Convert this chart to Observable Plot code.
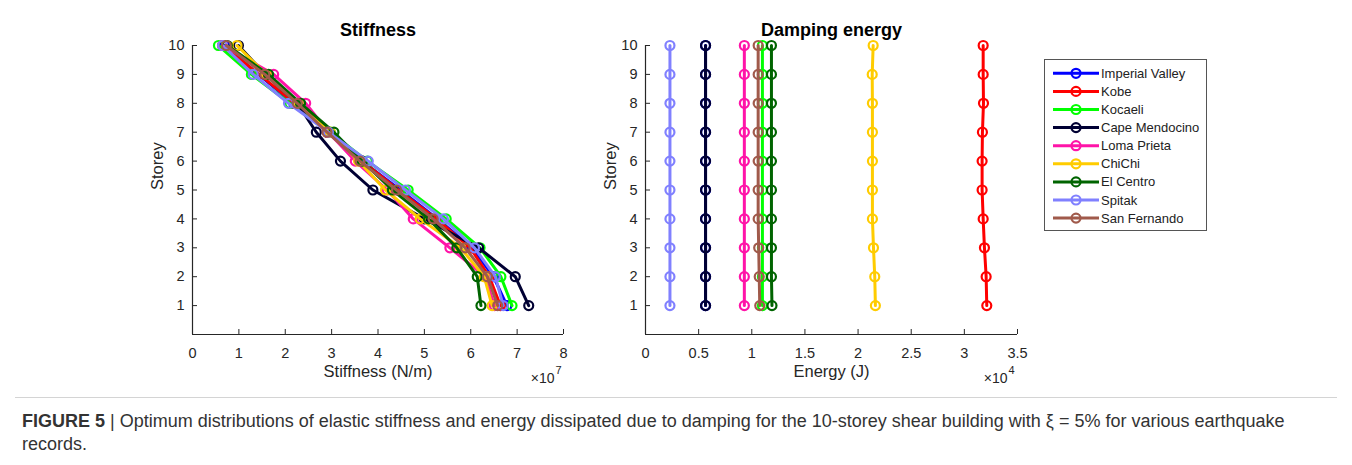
<!DOCTYPE html>
<html><head><meta charset="utf-8">
<script src="https://cdn.jsdelivr.net/npm/d3@7"></script>
<script src="https://cdn.jsdelivr.net/npm/@observablehq/plot@0.6"></script>
<style>
body{margin:0;background:#fff;font-family:"Liberation Sans",Arial,sans-serif;}
#wrap{position:relative;width:1352px;height:465px;overflow:hidden;background:#fff;}
#left{position:absolute;left:0;top:0;}
#right{position:absolute;left:600px;top:0;}
#legend{position:absolute;left:1040px;top:55px;}
#rule{position:absolute;left:15px;top:397px;width:1322px;height:1px;background:#d4d4d4;}
#caption{position:absolute;left:22px;top:410px;width:1310px;font-size:18px;line-height:23px;color:#333;}
</style></head><body>
<div id="wrap">
  <div id="left"></div>
  <div id="right"></div>
  <div id="legend"></div>
  <div id="rule"></div>
  <div id="caption"><b>FIGURE 5</b> | Optimum distributions of elastic stiffness and energy dissipated due to damping for the 10-storey shear building with ξ = 5% for various earthquake records.</div>
</div>
<script>
// ---- data ----
const storeys = [1, 2, 3, 4, 5, 6, 7, 8, 9, 10];
const seriesNames = ["Imperial Valley", "Kobe", "Kocaeli", "Cape Mendocino", "Loma Prieta", "ChiChi", "El Centro", "Spitak", "San Fernando"];
const seriesColors = ["#0000FF", "#FF0000", "#00FF00", "#000033", "#FF14A8", "#FFCC00", "#006400", "#8080FF", "#A05A4B"];

// Stiffness (x 10^7 N/m), storey 1..10
const stiffImperialValley = [6.78, 6.49, 6.03, 5.28, 4.48, 3.66, 2.91, 2.18, 1.42, 0.69];
const stiffKobe           = [6.64, 6.40, 5.99, 5.26, 4.44, 3.66, 2.91, 2.20, 1.44, 0.65];
const stiffKocaeli        = [6.89, 6.65, 6.20, 5.47, 4.65, 3.77, 2.97, 2.10, 1.27, 0.56];
const stiffCapeMendocino  = [7.25, 6.96, 6.17, 5.00, 3.89, 3.19, 2.67, 2.26, 1.57, 0.99];
const stiffLomaPrieta     = [6.51, 6.31, 5.55, 4.76, 4.20, 3.51, 2.93, 2.44, 1.75, 0.65];
const stiffChiChi         = [6.46, 6.29, 5.78, 4.91, 4.16, 3.58, 2.97, 2.28, 1.59, 0.96];
const stiffElCentro       = [6.22, 6.14, 5.70, 5.09, 4.31, 3.66, 3.05, 2.33, 1.64, 0.75];
const stiffSpitak         = [6.70, 6.53, 6.08, 5.41, 4.59, 3.79, 2.93, 2.07, 1.31, 0.65];
const stiffSanFernando    = [6.58, 6.36, 5.88, 5.19, 4.40, 3.61, 2.90, 2.26, 1.56, 0.73];

// Damping energy (x 10^4 J), storey 1..10
const energyImperialValley = [0.565, 0.565, 0.565, 0.565, 0.565, 0.565, 0.565, 0.565, 0.565, 0.565];
const energyKobe           = [3.211, 3.205, 3.189, 3.177, 3.167, 3.167, 3.170, 3.180, 3.177, 3.177];
const energyKocaeli        = [1.10, 1.10, 1.10, 1.10, 1.10, 1.10, 1.10, 1.10, 1.10, 1.10];
const energyCapeMendocino  = [0.565, 0.565, 0.565, 0.565, 0.565, 0.565, 0.565, 0.565, 0.565, 0.565];
const energyLomaPrieta     = [0.93, 0.93, 0.93, 0.93, 0.93, 0.93, 0.93, 0.93, 0.93, 0.93];
const energyChiChi         = [2.163, 2.157, 2.145, 2.135, 2.135, 2.135, 2.135, 2.135, 2.133, 2.142];
const energyElCentro       = [1.19, 1.185, 1.185, 1.185, 1.185, 1.185, 1.185, 1.185, 1.185, 1.185];
const energySpitak         = [0.23, 0.23, 0.23, 0.23, 0.23, 0.23, 0.23, 0.23, 0.23, 0.23];
const energySanFernando    = [1.075, 1.07, 1.065, 1.06, 1.06, 1.06, 1.06, 1.06, 1.06, 1.06];

const stiffTicks = [0, 1, 2, 3, 4, 5, 6, 7, 8];
const energyTicks = [0, 0.5, 1, 1.5, 2, 2.5, 3, 3.5];
const storeyTicks = [1, 2, 3, 4, 5, 6, 7, 8, 9, 10];

const stiffSeries = [stiffImperialValley, stiffKobe, stiffKocaeli, stiffCapeMendocino, stiffLomaPrieta, stiffChiChi, stiffElCentro, stiffSpitak, stiffSanFernando];
const energySeries = [energyImperialValley, energyKobe, energyKocaeli, energyCapeMendocino, energyLomaPrieta, energyChiChi, energyElCentro, energySpitak, energySanFernando];

const AX = "#262626";
const FONT = "'Liberation Sans', Arial, sans-serif";

function panel({series, xDomain, xTicks, title, xLabel, exponent, width, marginLeft, marginRight, expDx}) {
  const height = 390, marginTop = 45, marginBottom = 56;
  const frameH = height - marginTop - marginBottom;
  const frameW = width - marginLeft - marginRight;
  const marks = [
    Plot.ruleX([xDomain[0]], {stroke: AX, strokeWidth: 1.2}),
    Plot.ruleY([0], {stroke: AX, strokeWidth: 1.2}),
    Plot.tickX(xTicks, {x: d => d, stroke: AX, insetTop: frameH - 5}),
    Plot.tickY(storeyTicks, {y: d => d, stroke: AX, insetRight: frameW - 5}),
    Plot.axisX(xTicks, {tickSize: 0, tickPadding: 13, tickFormat: d => String(d), label: null, fill: AX, fontSize: 14.5}),
    Plot.axisY(storeyTicks, {tickSize: 0, tickPadding: 8, tickFormat: d => String(d), label: null, fill: AX, fontSize: 14.5})
  ];
  series.forEach((vals, i) => {
    const rows = storeys.map((s, j) => ({s, v: vals[j]}));
    marks.push(Plot.line(rows, {x: "v", y: "s", stroke: seriesColors[i], strokeWidth: 3}));
    marks.push(Plot.dot(rows, {x: "v", y: "s", stroke: seriesColors[i], strokeWidth: 2.2, r: 4.5, fill: "none"}));
  });
  marks.push(
    Plot.text([title], {text: d => d, frameAnchor: "top", lineAnchor: "middle", dy: -15, fontSize: 18, fontWeight: "bold", fill: "#000"}),
    Plot.text([xLabel], {text: d => d, frameAnchor: "bottom", lineAnchor: "middle", dy: 37, fontSize: 16.5, fill: AX}),
    Plot.text(["Storey"], {text: d => d, frameAnchor: "left", lineAnchor: "middle", dx: -35, rotate: -90, fontSize: 16.5, fill: AX}),
    Plot.text(["×10"], {text: d => d, frameAnchor: "bottom-right", lineAnchor: "middle", dx: expDx, dy: 44, textAnchor: "end", fontSize: 14, fill: AX}),
    Plot.text([exponent], {text: d => d, frameAnchor: "bottom-right", lineAnchor: "middle", dx: expDx + 1, dy: 36, textAnchor: "start", fontSize: 11, fill: AX})
  );
  return Plot.plot({
    width, height, marginTop, marginBottom, marginLeft, marginRight,
    x: {domain: xDomain},
    y: {domain: [0, 10]},
    style: {fontSize: "14px", fontFamily: FONT, background: "transparent", overflow: "visible"},
    marks
  });
}

document.getElementById("left").appendChild(panel({
  series: stiffSeries, xDomain: [0, 8], xTicks: stiffTicks, title: "Stiffness",
  xLabel: "Stiffness (N/m)", exponent: "7", width: 600, marginLeft: 192, marginRight: 37, expDx: -9
}));
document.getElementById("right").appendChild(panel({
  series: energySeries, xDomain: [0, 3.5], xTicks: energyTicks, title: "Damping energy",
  xLabel: "Energy (J)", exponent: "4", width: 440, marginLeft: 45, marginRight: 23, expDx: -10
}));

// ---- legend ----
const lg = d3.select("#legend").append("svg").attr("width", 175).attr("height", 185)
  .style("font-family", FONT);
lg.append("rect").attr("x", 4.5).attr("y", 4.5).attr("width", 162).attr("height", 171)
  .attr("fill", "#fff").attr("stroke", "#555").attr("stroke-width", 1);
seriesNames.forEach((name, i) => {
  const y = 18.3 + i * 18.1;
  lg.append("line").attr("x1", 13).attr("x2", 59).attr("y1", y).attr("y2", y)
    .attr("stroke", seriesColors[i]).attr("stroke-width", 3);
  lg.append("circle").attr("cx", 36).attr("cy", y).attr("r", 4.5)
    .attr("fill", "none").attr("stroke", seriesColors[i]).attr("stroke-width", 2.2);
  lg.append("text").attr("x", 61).attr("y", y).attr("dy", "0.35em")
    .attr("font-size", 13).attr("fill", "#222").text(name);
});
</script>
</body></html>
